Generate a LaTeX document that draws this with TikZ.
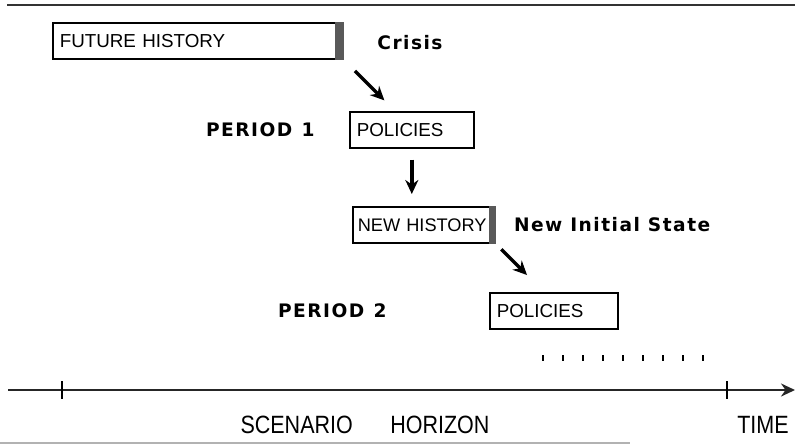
\documentclass[tikz,border=0pt]{standalone}
\usepackage{fontspec}
\setmainfont{Liberation Sans}
\newfontfamily\lblfont{DejaVu Sans}[LetterSpace=8]
\newfontfamily\axfont{Liberation Sans}[FakeStretch=0.86]
\usetikzlibrary{arrows.meta,positioning,calc}

\begin{document}
\begin{tikzpicture}[x=0.5pt, y=-0.5pt, >={Stealth[length=7pt,width=6.5pt]},
  hbox/.style={draw, line width=0.8pt, minimum height=18pt, inner xsep=3.5pt, anchor=north west,
    align=left, font=\fontsize{9.4}{10}\selectfont},
  lbl/.style={font=\lblfont\bfseries\fontsize{9.3}{10}\selectfont, inner sep=0pt},
  axl/.style={font=\axfont\fontsize{12.5}{14}\selectfont, inner sep=0pt},
  arr/.style={->, line width=1.7pt},
  bar/.style={fill=black!65}]
  \useasboundingbox (0,0) rectangle (795,445);
  % frame lines of the page
  \draw[line width=1.3pt, black!80] (7,5) -- (795,5);
  \draw[line width=1pt, black!30] (0,443) -- (630,443);

  % period 1
  \node[hbox, text width=138pt] (fh) at (52,22) {FUTURE HISTORY};
  \fill[bar] ([xshift=-4.5pt]fh.north east) rectangle (fh.south east);
  \node[lbl, anchor=west] (crisis) at (377,43) {Crisis};
  \node[hbox, text width=55pt] (pol1) at (349,111) {POLICIES};
  \node[lbl, left=17pt of pol1] (per1) {PERIOD\enspace 1};

  % period 2
  \node[hbox, text width=66pt, inner xsep=2.5pt, font=\fontsize{9.1}{10}\selectfont] (nh) at (352,206) {\mbox{NEW HISTORY}};
  \fill[bar] ([xshift=-3.5pt]nh.north east) rectangle (nh.south east);
  \node[lbl, right=9pt of nh] (newst) {New Initial State};
  \node[hbox, text width=57pt] (pol2) at (489,292) {POLICIES};
  \node[lbl, left=51pt of pol2] (per2) {PERIOD\enspace 2};

  \draw[arr, shorten <=8pt, shorten >=7.5pt] (fh.south east) -- ([xshift=23pt]pol1.north west);
  \draw[arr, shorten <=5.5pt, shorten >=6pt] (pol1.south) -- (pol1.south |- nh.north);
  \draw[arr, shorten <=4pt, shorten >=12pt] (nh.south east) -- ([xshift=27.5pt]pol2.north west);

  % continuation dots
  \foreach \i in {0,...,8}
    \draw[line width=1.3pt] (543+20*\i,355) -- (543+20*\i,361);

  % time axis
  \coordinate (t0) at (8,390);
  \coordinate (t1) at (795,390);
  \draw[->, line width=1.4pt, black!85] (t0) -- (t1);
  \foreach \x in {62,727}
    \draw[line width=1pt] (\x,381) -- (\x,399);
  \node[axl] (horizon) at (365,425) {SCENARIO\enspace\quad HORIZON};
  \node[axl] (time) at (763,425) {TIME};
\end{tikzpicture}
\end{document}
